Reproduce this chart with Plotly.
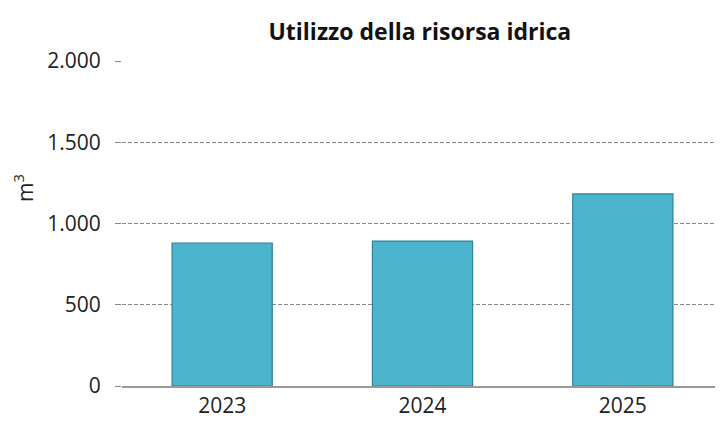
import plotly.graph_objects as go

years = ["2023", "2024", "2025"]
consumo = [880, 892, 1182]
y_ticks = [0, 500, 1000, 1500, 2000]

fig = go.Figure()
fig.add_trace(go.Bar(
    x=years, y=consumo, width=0.5,
    marker=dict(color="#4DB4CD", line=dict(color="#2F8196", width=1.2)),
    hoverinfo="x+y",
))

fig.update_layout(
    width=715, height=418,
    margin=dict(l=114, r=0, t=53, b=40),
    paper_bgcolor="white", plot_bgcolor="white",
    separators=",.",
    font=dict(family="Open Sans, sans-serif", size=20, color="#222"),
    title=dict(text="<b>Utilizzo della risorsa idrica</b>", x=0.576, xanchor="center",
               y=0.943, yanchor="middle", font=dict(size=23, color="#111")),
    showlegend=False,
)
fig.add_annotation(text="m<sup>3</sup>", textangle=-90, showarrow=False,
                   xref="paper", yref="paper", x=-0.165, y=0.609,
                   xanchor="center", yanchor="middle", borderpad=0,
                   font=dict(size=21, color="#222"))
fig.update_xaxes(showgrid=False, showline=True, linecolor="#999", linewidth=1.5,
                 ticks="", tickfont=dict(size=21))
fig.update_yaxes(range=[0, 2000], tickvals=y_ticks, tickformat=",d",
                 showgrid=True, gridcolor="#888", griddash="4px,2px", gridwidth=1,
                 zeroline=False, showline=False,
                 ticks="outside", ticklen=6, tickcolor="#888",
                 ticklabelstandoff=10,
                 tickfont=dict(size=21))
fig.write_html("out.html")
